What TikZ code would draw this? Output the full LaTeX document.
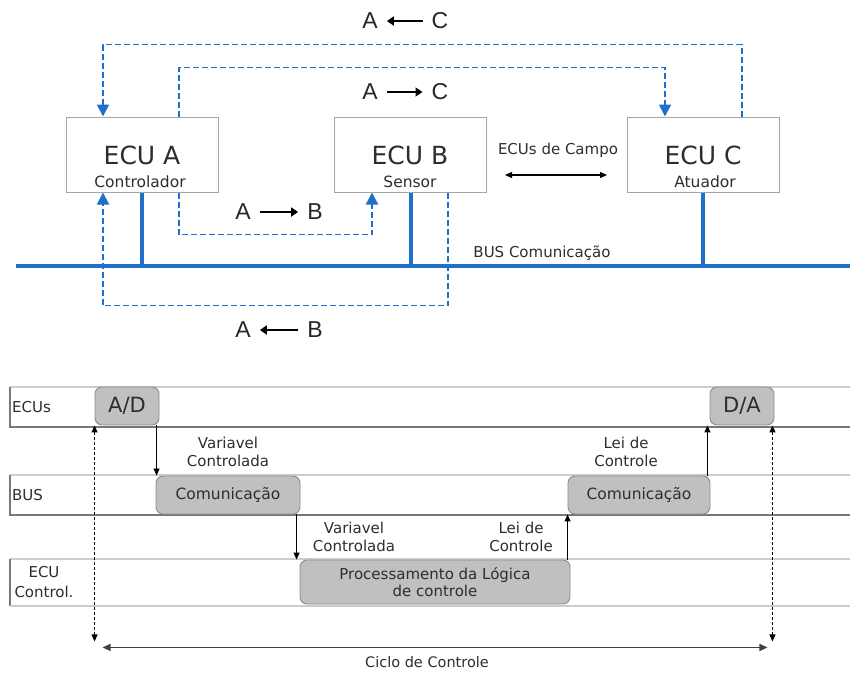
\documentclass[tikz,border=0pt]{standalone}
\usepackage{fontspec}
\setmainfont{DejaVu Sans}
\newfontfamily\letterfont{Liberation Sans}
\usetikzlibrary{arrows.meta,calc}

\definecolor{busblue}{RGB}{31,112,200}
\definecolor{boxedge}{RGB}{165,165,165}
\definecolor{stepfill}{RGB}{192,192,192}
\definecolor{stepedge}{RGB}{140,140,140}
\definecolor{laneline}{RGB}{120,120,120}
\definecolor{lanelight}{RGB}{205,205,205}
\definecolor{txtgray}{RGB}{45,45,45}

\tikzset{
  ecubox/.style={draw=boxedge, line width=1pt, minimum width=152pt, minimum height=75pt, inner sep=0pt},
  ecutitle/.style={font=\fontsize{25}{28}\selectfont, text=txtgray, inner sep=0pt},
  ecusub/.style={font=\fontsize{15.5}{18}\selectfont, text=txtgray, inner sep=0pt},
  smalltxt/.style={font=\fontsize{15}{18}\selectfont, text=txtgray, align=center, inner sep=0pt},
  letter/.style={font=\letterfont\fontsize{23}{25}\selectfont, text=black!85, inner sep=0pt},
  letterarrow/.style={line width=2.8pt, -{Triangle[width=9pt,length=7pt]}, shorten >=9pt, shorten <=9pt},
  bus/.style={busblue, line width=3.5pt},
  signal/.style={busblue, line width=1.9pt, dash pattern=on 6pt off 3pt},
  sigtip/.style={-{Triangle[width=12pt,length=12pt]}},
  stepbox/.style={draw=stepedge, fill=stepfill, rounded corners=7pt, line width=0.9pt, inner sep=0pt, text=txtgray},
  lanetop/.style={lanelight, line width=2.5pt},
  lanebot/.style={laneline, line width=1.2pt},
  flow/.style={black, line width=1.3pt, -{Triangle[width=6pt,length=7pt]}},
  flowthin/.style={black, line width=0.8pt, -{Triangle[width=6pt,length=7pt]}},
  cycle/.style={black, line width=1.1pt, dash pattern=on 3pt off 2pt, {Triangle[width=6pt,length=7pt]}-{Triangle[width=6pt,length=7pt]}},
}

\begin{document}
\begin{tikzpicture}[x=1pt,y=-1pt]
\useasboundingbox (0,0) rectangle (850,673);

% ---------- network of ECUs ----------
\node[ecubox] (ecuA) at (142,154.5) {};
\node[ecubox] (ecuB) at (410,154.5) {};
\node[ecubox] (ecuC) at (703,154.5) {};

\node[ecutitle] (ecuAt) at (142,155) {ECU A};
\node[ecusub]   (ecuAs) at (140,182) {Controlador};
\node[ecutitle] (ecuBt) at (410,155) {ECU B};
\node[ecusub]   (ecuBs) at (410,182) {Sensor};
\node[ecutitle] (ecuCt) at (703,155) {ECU C};
\node[ecusub]   (ecuCs) at (705,182) {Atuador};

% communication bus and stubs
\coordinate (busL) at (16,266);
\coordinate (busR) at (850,266);
\draw[bus] (busL) -- (busR);
\draw[bus] (ecuA.south) -- (ecuA.south |- busL);
\draw[bus] ([xshift=1pt]ecuB.south) -- ([xshift=1pt]ecuB.south |- busL);
\draw[bus] (ecuC.south) -- (ecuC.south |- busL);
\node[smalltxt] (busLabel) at (542,253) {BUS Comunicação};

% field ECUs
\node[smalltxt] (campo) at (558,150) {ECUs de Campo};
\coordinate (campoL) at (505,175);
\coordinate (campoR) at (607,175);
\draw[black, line width=1.2pt, {Triangle[width=6pt,length=7pt]}-{Triangle[width=6pt,length=7pt]}] (campoL) -- (campoR);

% message paths
\coordinate (cUp)  at ([xshift=39pt]ecuC.north);
\coordinate (aUpL) at ([xshift=-39pt]ecuA.north);
\coordinate (aUpR) at ([xshift=37pt]ecuA.north);
\coordinate (cUpL) at ([xshift=-38pt]ecuC.north);
\coordinate (aDnR) at ([xshift=37pt]ecuA.south);
\coordinate (bDnL) at ([xshift=-38pt]ecuB.south);
\coordinate (bDnR) at ([xshift=38pt]ecuB.south);
\coordinate (aDnL) at ([xshift=-39pt]ecuA.south);

\draw[signal, sigtip] (cUp) -- ++(0,-72) -| (aUpL);
\draw[signal, sigtip] (aUpR) -- ++(0,-49) -| (cUpL);
\draw[signal, sigtip] (aDnR) -- ++(0,42) -| (bDnL);
\draw[signal, sigtip] (bDnR) -- ++(0,113) -| (aDnL);

% direction labels
\node[letter] (l1a) at (370,21) {A};
\node[letter] (l1c) at (440,21) {C};
\draw[letterarrow] (l1c) -- (l1a);

\node[letter] (l2a) at (370,92) {A};
\node[letter] (l2c) at (440,92) {C};
\draw[letterarrow] (l2a) -- (l2c);

\node[letter] (l3a) at (243,212) {A};
\node[letter] (l3b) at (315,212) {B};
\draw[letterarrow] (l3a) -- (l3b);

\node[letter] (l4a) at (243,330) {A};
\node[letter] (l4b) at (315,330) {B};
\draw[letterarrow] (l4b) -- (l4a);

% ---------- timing lanes ----------
\draw[lanetop] (10,387) -- (850,387);
\draw[lanebot] (10,387) -- (10,427) -- (850,427);
\draw[lanetop] (10,475) -- (850,475);
\draw[lanebot] (10,475) -- (10,515) -- (850,515);
\draw[lanetop] (10,559) -- (850,559);
\draw[lanebot] (10,559) -- (10,606);
\draw[lanetop] (10,606) -- (850,606);

\node[smalltxt, anchor=west] (laneECU) at (12,407) {ECUs};
\node[smalltxt, anchor=west] (laneBUS) at (12,495) {BUS};
\node[smalltxt, font=\fontsize{15}{20}\selectfont] (laneCtl) at (44,582) {ECU\\Control.};

% steps of the control cycle
\node[stepbox, minimum width=64pt, minimum height=38pt, font=\fontsize{21}{24}\selectfont] (ad) at (127,406) {A/D};
\node[stepbox, minimum width=64pt, minimum height=38pt, font=\fontsize{21}{24}\selectfont] (da) at (742,406) {D/A};
\node[stepbox, minimum width=144pt, minimum height=38pt, font=\fontsize{15.5}{18}\selectfont] (com1) at (228,495) {Comunicação};
\node[stepbox, minimum width=142pt, minimum height=38pt, font=\fontsize{15.5}{18}\selectfont] (com2) at (639,495) {Comunicação};
\node[stepbox, minimum width=270pt, minimum height=44pt, font=\fontsize{15}{17}\selectfont, align=center] (proc) at (435,582) {Processamento da Lógica\\de controle};

% data flow between steps
\coordinate (f1) at ([xshift=1pt]com1.north west);
\draw[flowthin] (f1 |- ad.south) -- (f1);
\coordinate (f2) at ([xshift=-3pt]proc.north west);
\draw[flow] (f2 |- com1.south) -- (f2);
\coordinate (f3) at (com2.south west);
\draw[flow] (f3 |- proc.north) -- (f3);
\coordinate (f4) at ([xshift=-3pt]com2.north east);
\draw[flow] (f4) -- (f4 |- da.south);

\node[smalltxt] (v1) at (228,452) {Variavel\\Controlada};
\node[smalltxt] (v2) at (354,537) {Variavel\\Controlada};
\node[smalltxt] (c1) at (521,537) {Lei de\\Controle};
\node[smalltxt] (c2) at (626,452) {Lei de\\Controle};

% control cycle span
\coordinate (cycTL) at (ad.south west);
\coordinate (cycTR) at ([xshift=-2pt]da.south east);
\coordinate (cycBL) at ($(cycTL)+(0,216)$);
\coordinate (cycBR) at ($(cycTR)+(0,216)$);
\draw[cycle] (cycTL) -- (cycBL);
\draw[cycle] (cycTR) -- (cycBR);
\coordinate (spanL) at ($(cycBL)+(8,6)$);
\coordinate (spanR) at ($(cycBR)+(-5,6)$);
\draw[black!75, line width=1.5pt, {Triangle[width=7pt,length=8pt]}-{Triangle[width=7pt,length=8pt]}] (spanL) -- (spanR);
\node[smalltxt, font=\fontsize{14.5}{17}\selectfont] (cyc) at (427,662) {Ciclo de Controle};

\end{tikzpicture}
\end{document}
